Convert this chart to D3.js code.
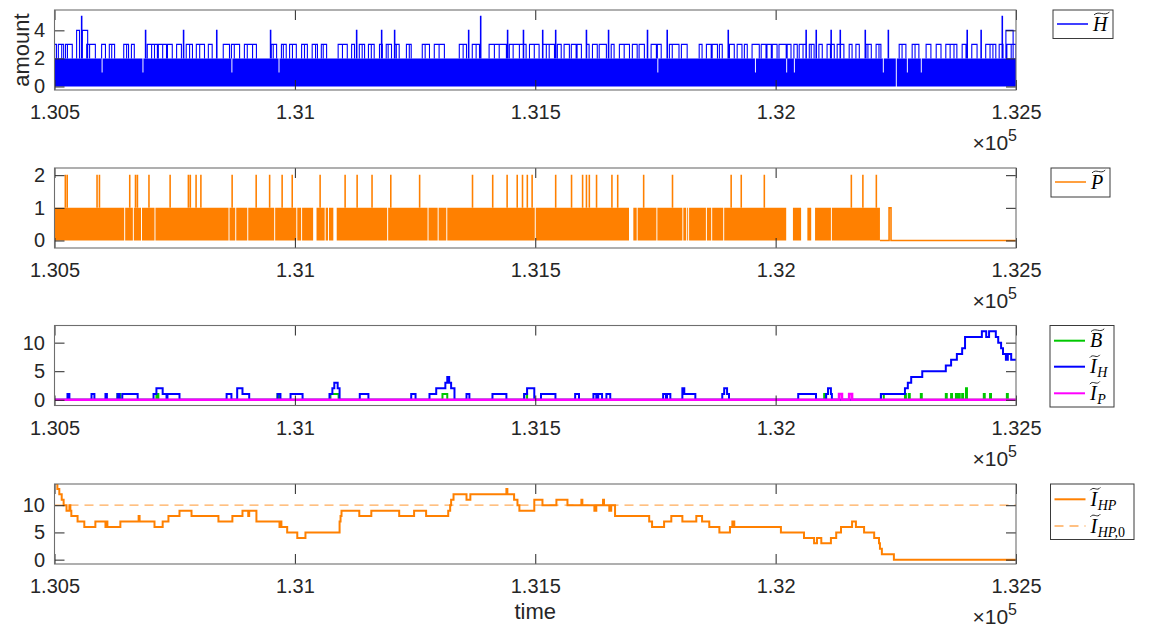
<!DOCTYPE html>
<html>
<head>
<meta charset="utf-8">
<script src="https://cdn.jsdelivr.net/npm/d3@7"></script>
<style>
  body { margin: 0; background: #fff; }
  svg { display: block; }
</style>
</head>
<body>
<svg id="fig" width="1155" height="630"></svg>
<script>
// ---------- shared time axis ----------
const tStart = 130500, tEnd = 132500;
const xTicks = [130500, 131000, 131500, 132000, 132500];
const xTickLabels = ["1.305", "1.31", "1.315", "1.32", "1.325"];

// ---------- panel 1: H~ (dense count between 0 and 2, excursions above) ----------
const hBase = 2;
const hYTicks = [0, 2, 4];
// short excursions up to 3 [from, to]
const hArches3 = [
  [130500,130504],[130508,130515],[130515,130519],[130523,130527],[130527,130537],[130567,130573],
  [130573,130585],[130598,130606],[130614,130619],[130619,130625],[130644,130650],[130650,130654],
  [130660,130666],[130693,130702],[130702,130708],[130708,130714],[130716,130725],[130725,130733],
  [130735,130745],[130754,130764],[130774,130781],[130781,130787],[130795,130802],[130802,130812],
  [130820,130828],[130851,130864],[130868,130874],[130874,130885],[130895,130901],[130901,130912],
  [130912,130920],[130951,130955],[130955,130962],[130972,130976],[130976,130982],[130989,130995],
  [130995,131003],[131014,131020],[131020,131026],[131036,131043],[131043,131047],[131055,131059],
  [131059,131066],[131090,131099],[131099,131109],[131118,131124],[131134,131140],[131140,131145],
  [131153,131159],[131159,131165],[131176,131182],[131190,131194],[131194,131201],[131207,131211],
  [131211,131217],[131232,131238],[131238,131242],[131265,131271],[131271,131280],[131290,131300],
  [131300,131311],[131342,131350],[131350,131357],[131369,131377],[131377,131384],[131404,131415],
  [131415,131425],[131425,131440],[131446,131454],[131454,131467],[131467,131481],[131488,131498],
  [131498,131508],[131515,131523],[131523,131529],[131529,131540],[131546,131554],[131560,131571],
  [131575,131585],[131587,131596],[131606,131612],[131619,131629],[131633,131648],[131658,131664],
  [131675,131685],[131685,131696],[131702,131712],[131716,131727],[131741,131752],[131754,131762],
  [131779,131785],[131785,131799],[131804,131816],[131841,131847],[131856,131866],[131868,131879],
  [131883,131889],[131904,131914],[131920,131930],[131935,131941],[131951,131966],[131970,131980],
  [131982,131991],[131993,132003],[132007,132022],[132024,132032],[132038,132045],[132049,132057],
  [132057,132063],[132070,132074],[132074,132080],[132090,132097],[132107,132114],[132114,132122],
  [132128,132134],[132134,132142],[132153,132159],[132167,132174],[132188,132192],[132192,132199],
  [132209,132215],[132215,132219],[132257,132263],[132263,132271],[132284,132290],[132290,132298],
  [132313,132323],[132334,132344],[132354,132363],[132363,132371],[132371,132377],[132388,132396],
  [132408,132419],[132437,132446],[132446,132452],[132452,132458],[132465,132473],[132481,132490],
  [132490,132500]
];
// higher peaks [from, to, value]
const hPeaks = [
  [130546,130552,4],[130556,130557,5],[130558,130569,4],[130689,130690,4],[130768,130769,4],
  [130837,130838,4],[130949,130950,4],[131128,131129,4],[131180,131181,4],[131207,131208,4],
  [131361,131362,4],[131386,131387,5],[131442,131443,4],[131475,131476,4],[131515,131516,4],
  [131542,131543,4],[131606,131607,4],[131652,131653,4],[131733,131734,4],[131774,131775,4],
  [131901,131902,4],[132063,132064,4],[132084,132085,4],[132115,132116,4],[132134,132135,4],
  [132186,132187,4],[132234,132235,4],[132398,132399,4],[132427,132428,4],[132471,132472,5],
  [132479,132494,4]
];
// short stretches where the count stays below 2 [from, to, value]
const hDips = [
  [130598,130600,1],[130683,130685,1],[130868,130870,1],[130966,130968,1],[131754,131756,1],
  [131957,131959,1],[132022,132024,1],[132038,132040,1],[132223,132225,1],[132250,132252,0],
  [132273,132275,1],[132302,132304,1]
];

// ---------- panel 2: P~ (count between 0 and 1, spikes to 2) ----------
const pBase = 1;
const pYTicks = [0, 1, 2];
const pSpikes = [
  130522,130526,130588,130593,130656,130668,130672,130696,130740,130778,130782,130794,130804,
  130869,130919,130947,130973,130994,131052,131104,131129,131160,131199,131259,131369,131411,
  131441,131462,131473,131483,131493,131542,131575,131598,131606,131612,131627,131659,131671,
  131725,131785,131907,131928,131976,132157,132181,132209
];
const pGaps = [
  [130645,130647],[130663,130665],[130680,130682],[130708,130710],[130862,130864],[130876,130878],
  [130901,130903],[130957,130959],[131003,131005],[131013,131015],[131038,131045],[131062,131064],
  [131069,131071],[131080,131087],[131192,131194],[131276,131278],[131297,131299],[131315,131317],
  [131499,131501],[131695,131704],[131711,131713],[131752,131754],[131806,131808],[131814,131816],
  [131818,131820],[131855,131857],[131866,131868],[131891,131893],[132022,132036],[132053,132066],
  [132074,132082],[132115,132117]
];
const pBandEnd = 132217;
const pLastPulse = [132236, 132240];

// ---------- panel 3: B~, I_H~, I_P~ ----------
const midYTicks = [0, 5, 10];
const bSpikes = [
  [130631,130637,1],[130712,130716,1],[130964,130968,1],[131074,131091,1],[131307,131317,1],
  [131477,131483,1],[132101,132105,1],[132219,132225,1],[132269,132271,1],[132277,132279,1],
  [132302,132304,1],[132354,132356,1],[132365,132367,1],[132375,132377,1],[132381,132383,1],
  [132388,132390,1],[132396,132398,2],[132433,132435,1],[132446,132448,1],[132481,132483,1]
];
const ihSteps = [
  [130500,0],
  [130527,1],[130531,0],[130577,1],[130583,0],[130606,1],[130609,0],[130631,1],[130635,0],
  [130641,1],[130673,0],
  [130706,1],[130712,2],[130725,1],[130733,0],[130735,1],[130760,0],
  [130858,1],[130868,0],[130880,2],[130891,1],[130905,0],[130964,1],[130970,0],[130991,1],[131016,0],
  [131072,1],[131078,2],[131082,3],[131089,2],[131093,0],[131135,1],[131153,0],[131242,1],[131251,0],
  [131280,1],[131294,2],[131313,3],[131317,4],[131321,3],[131325,2],[131332,0],
  [131357,1],[131363,0],[131411,1],[131440,0],[131477,1],[131483,2],[131498,0],[131512,1],[131542,0],
  [131583,1],[131591,0],[131621,1],[131627,0],[131631,1],[131639,0],[131648,1],[131656,0],
  [131766,1],[131772,0],[131774,1],[131781,0],[131806,2],[131810,1],[131833,0],
  [131889,1],[131893,2],[131899,1],[131903,0],[132047,1],[132084,0],
  [132105,1],[132109,2],[132115,1],[132117,0],
  [132219,1],[132269,2],[132275,3],[132282,4],[132305,5],[132354,6],[132365,7],[132377,8],
  [132388,9],[132394,11],[132429,12],[132438,11],[132444,12],[132458,11],[132463,10],[132469,9],
  [132473,8],[132479,7],[132483,8],[132490,7]
];
const ipSpikes = [[132132,132138,1],[132153,132159,1]];

// ---------- panel 4: I_HP~ and its initial level ----------
const ihpSteps = [
  [130500,14],[130506,13],[130510,12],[130515,11],[130519,10],[130525,9],[130531,10],[130533,9],
  [130535,8],[130548,7],[130562,6],[130585,7],[130606,6],[130608,7],[130610,6],[130637,7],[130675,8],
  [130677,7],[130708,6],[130725,7],[130737,8],[130760,9],[130785,8],[130841,7],[130870,8],[130891,9],
  [130903,8],[130905,9],[130920,7],[130968,6],[130970,7],[130972,6],[130984,5],[131005,4],[131022,5],
  [131093,7],[131095,8],[131097,9],[131134,8],[131159,9],[131217,8],[131248,9],[131273,8],[131319,9],
  [131323,10],[131325,11],[131330,12],[131357,11],[131365,12],[131440,13],[131442,12],[131456,11],
  [131463,10],[131467,9],[131498,11],[131515,10],[131544,11],[131567,10],[131596,11],[131598,10],
  [131623,9],[131627,10],[131641,11],[131643,10],[131654,9],[131658,10],[131666,8],[131737,7],
  [131743,6],[131768,7],[131783,8],[131806,7],[131835,8],[131847,7],[131862,6],[131883,5],[131905,6],
  [131910,7],[131914,6],[132011,5],[132059,4],[132080,3],[132086,4],[132095,3],[132115,4],[132126,5],
  [132136,6],[132159,7],[132167,6],[132184,5],[132205,4],[132215,3],[132217,2],[132221,1],[132246,0]
];
const ihp0 = 10;

// ---------- colours ----------
const BLUE = "#0000ff", ORANGE = "#ff8000", GREEN = "#00c800", MAGENTA = "#ff00ff";
const INK = "#262626";

// ---------- layout ----------
const svg = d3.select("#fig");
const X0 = 54.5, X1 = 1016, PH = 80;
const x = d3.scaleLinear().domain([tStart, tEnd]).range([X0, X1]);

function makePanel(idx, top, domain, yTicks) {
  const y = d3.scaleLinear().domain(domain).range([top + PH, top]);
  const g = svg.append("g");
  const clipId = "clip" + idx;
  svg.append("clipPath").attr("id", clipId)
    .append("rect").attr("x", X0).attr("y", top).attr("width", X1 - X0).attr("height", PH);
  const plot = g.append("g").attr("clip-path", `url(#${clipId})`);
  return { g, plot, y, top, yTicks };
}

function drawFrame(p) {
  const { g, y, top, yTicks } = p;
  const bottom = top + PH;
  const ax = g.append("g");
  ax.append("g").attr("transform", `translate(0,${bottom})`)
    .call(d3.axisBottom(x).tickValues(xTicks).tickFormat((d, i) => xTickLabels[i])
      .tickSizeInner(-10).tickSizeOuter(0).tickPadding(15));
  ax.append("g").attr("transform", `translate(0,${top})`)
    .call(d3.axisTop(x).tickValues(xTicks).tickFormat("").tickSizeInner(-10).tickSizeOuter(0));
  ax.append("g").attr("transform", `translate(${X0},0)`)
    .call(d3.axisLeft(y).tickValues(yTicks).tickFormat(d3.format("d"))
      .tickSizeInner(-10).tickSizeOuter(0).tickPadding(9.5));
  ax.append("g").attr("transform", `translate(${X1},0)`)
    .call(d3.axisRight(y).tickValues(yTicks).tickFormat("").tickSizeInner(-10).tickSizeOuter(0));
  ax.selectAll(".domain").remove();
  ax.selectAll(".tick line").attr("stroke", INK).attr("stroke-width", 1);
  ax.selectAll(".tick text").attr("fill", INK)
    .style("font-family", '"Liberation Sans", Arial, Helvetica, sans-serif').style("font-size", "20px");
  g.append("rect").attr("x", X0).attr("y", top).attr("width", X1 - X0).attr("height", PH)
    .attr("fill", "none").attr("stroke", "#6e6e6e").attr("stroke-width", 1.1);
  // exponent of the time axis
  const ex = g.append("text").attr("x", X1 + 1).attr("y", bottom + 60).attr("text-anchor", "end")
    .attr("fill", INK).style("font-family", '"Liberation Sans", Arial, sans-serif').style("font-size", "21px");
  ex.append("tspan").text("\u00d710");
  ex.append("tspan").attr("dy", -9).style("font-size", "16px").text("5");
}

// wide tilde accent
function tilde(g, cx, cy, w) {
  const p = d3.path();
  p.moveTo(cx - w / 2, cy + 1.4);
  p.bezierCurveTo(cx - w / 6, cy - 3.2, cx + w / 6, cy + 3.2, cx + w / 2, cy - 1.4);
  g.append("path").attr("d", p.toString()).attr("fill", "none").attr("stroke", "#111").attr("stroke-width", 0.9);
}

function mathLabel(g, x0, base, main, sub, tail) {
  const fam = '"Liberation Serif", "DejaVu Serif", serif';
  const t = g.append("text").attr("x", x0).attr("y", base).attr("fill", "#000")
    .style("font-family", fam).style("font-style", "italic").style("font-size", "20px").text(main);
  const w = t.node().getComputedTextLength();
  tilde(g, x0 + w * 0.5 + 1.5, base - 17, Math.max(w + 1, 10));
  if (sub) {
    const s = g.append("text").attr("x", x0 + w + 0.5).attr("y", base + 4).attr("fill", "#000")
      .style("font-family", fam).style("font-style", "italic").style("font-size", "14px").text(sub);
    if (tail) s.append("tspan").style("font-style", "normal").text(tail);
  }
}

function legend(x0, y0, w, h, entries) {
  const g = svg.append("g");
  g.append("rect").attr("x", x0).attr("y", y0).attr("width", w).attr("height", h)
    .attr("fill", "#fff").attr("stroke", "#3a3a3a").attr("stroke-width", 1);
  entries.forEach(e => {
    g.append("line").attr("x1", x0 + 4).attr("x2", x0 + 35).attr("y1", e.y).attr("y2", e.y)
      .attr("stroke", e.color).attr("stroke-width", e.width)
      .attr("stroke-dasharray", e.dash || null).attr("stroke-opacity", e.opacity || 1);
    mathLabel(g, x0 + 40, e.y + 6.5, e.main, e.sub, e.tail);
  });
}

const line = (y) => d3.line().x(d => x(d[0])).y(d => y(d[1]));
const stepLine = (y) => d3.line().x(d => x(d[0])).y(d => y(d[1])).curve(d3.curveStepAfter);

// ---------- panel 1 ----------
const p1 = makePanel(1, 10, [-0.25, 5.45], hYTicks);
{
  const y = p1.y;
  const env = [[tStart, hBase]];
  hDips.forEach(([a, b, v]) => env.push([a, v], [b, hBase]));
  env.push([tEnd, hBase]);
  p1.plot.append("path").attr("fill", BLUE)
    .attr("d", d3.area().x(d => x(d[0])).y0(y(0)).y1(d => y(d[1])).curve(d3.curveStepAfter)(env));
  const segs = hArches3.map(([a, b]) => [a, b, 3]).concat(hPeaks);
  const L = line(y);
  p1.plot.append("path").attr("fill", "none").attr("stroke", BLUE).attr("stroke-width", 1.1)
    .attr("d", segs.map(([a, b, v]) => L([[a, hBase], [a, v], [b, v], [b, hBase]])).join(""));
}
drawFrame(p1);

// ---------- panel 2 ----------
const p2 = makePanel(2, 168, [-0.23, 2.22], pYTicks);
{
  const y = p2.y;
  const env = [[tStart, pBase]];
  pGaps.forEach(([a, b]) => env.push([a, 0], [b, pBase]));
  env.push([pBandEnd, pBase]);
  p2.plot.append("path").attr("fill", ORANGE)
    .attr("d", d3.area().x(d => x(d[0])).y0(y(0)).y1(d => y(d[1])).curve(d3.curveStepAfter)(env));
  const L = line(y);
  p2.plot.append("path").attr("fill", "none").attr("stroke", ORANGE).attr("stroke-width", 1.1)
    .attr("d", pSpikes.map(t => L([[t, pBase], [t, 2], [t + 1, 2], [t + 1, pBase]])).join(""));
  p2.plot.append("path").attr("fill", "none").attr("stroke", ORANGE).attr("stroke-width", 1.6)
    .attr("d", L([[pBandEnd, 0], [pLastPulse[0], 0], [pLastPulse[0], 1], [pLastPulse[1], 1],
                  [pLastPulse[1], 0], [tEnd, 0]]));
}
drawFrame(p2);

// ---------- panel 3 ----------
const p3 = makePanel(3, 325.5, [-1, 13], midYTicks);
{
  const y = p3.y;
  const S = stepLine(y);
  const spikesToSteps = (sp) => {
    const pts = [[tStart, 0]];
    sp.forEach(([a, b, v]) => pts.push([a, v], [b, 0]));
    pts.push([tEnd, 0]);
    return pts;
  };
  p3.plot.append("path").attr("fill", "none").attr("stroke", GREEN).attr("stroke-width", 2)
    .attr("d", S(spikesToSteps(bSpikes)));
  p3.plot.append("path").attr("fill", "none").attr("stroke", BLUE).attr("stroke-width", 2)
    .attr("d", S(ihSteps.concat([[tEnd, ihSteps[ihSteps.length - 1][1]]])));
  p3.plot.append("path").attr("fill", "none").attr("stroke", MAGENTA).attr("stroke-width", 2.6)
    .attr("d", S(spikesToSteps(ipSpikes)));
}
drawFrame(p3);

// ---------- panel 4 ----------
const p4 = makePanel(4, 484, [-0.8, 13.9], midYTicks);
{
  const y = p4.y;
  p4.plot.append("path").attr("fill", "none").attr("stroke", ORANGE).attr("stroke-opacity", 0.65)
    .attr("stroke-width", 1.3).attr("stroke-dasharray", "9,6")
    .attr("d", line(y)([[tStart, ihp0], [tEnd, ihp0]]));
  p4.plot.append("path").attr("fill", "none").attr("stroke", ORANGE).attr("stroke-width", 2)
    .attr("d", stepLine(y)(ihpSteps.concat([[tEnd, ihpSteps[ihpSteps.length - 1][1]]])));
}
drawFrame(p4);

// ---------- axis titles ----------
svg.append("text").attr("transform", "translate(28.5,50) rotate(-90)").attr("text-anchor", "middle")
  .attr("fill", INK).style("font-family", '"Liberation Sans", Arial, sans-serif').style("font-size", "22px")
  .text("amount");
svg.append("text").attr("x", (X0 + X1) / 2).attr("y", 619).attr("text-anchor", "middle")
  .attr("fill", INK).style("font-family", '"Liberation Sans", Arial, sans-serif').style("font-size", "22px")
  .text("time");

// ---------- legends ----------
legend(1053, 10, 60, 28.5, [{ y: 24, color: BLUE, width: 1.5, main: "H" }]);
legend(1051, 168, 59, 29, [{ y: 182, color: ORANGE, width: 1.5, main: "P" }]);
legend(1050, 325.5, 64, 81.5, [
  { y: 340.7, color: GREEN, width: 2, main: "B" },
  { y: 366.7, color: BLUE, width: 2, main: "I", sub: "H" },
  { y: 393.3, color: MAGENTA, width: 2, main: "I", sub: "P" }
]);
legend(1050.5, 484, 83.5, 55.5, [
  { y: 499.3, color: ORANGE, width: 2, main: "I", sub: "HP" },
  { y: 526, color: ORANGE, width: 1.3, dash: "9,6", opacity: 0.65, main: "I", sub: "HP,", tail: "0" }
]);
</script>
</body>
</html>
